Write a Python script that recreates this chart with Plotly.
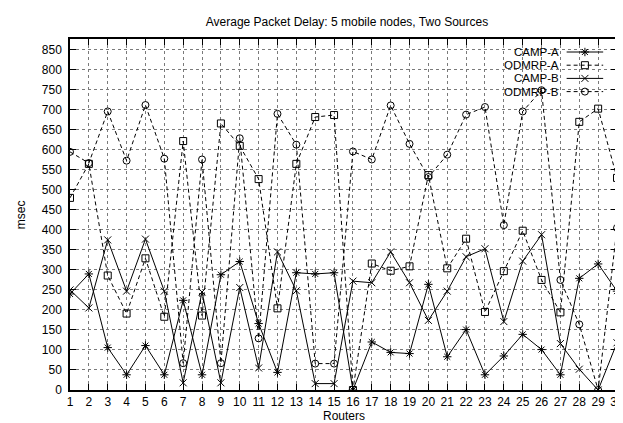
import plotly.graph_objects as go

# ---------------- data ----------------
routers = list(range(1, 31))
series_names = ["CAMP-A", "ODMRP-A", "CAMP-B", "ODMRP-B"]
camp_a = [240, 290, 106, 38, 111, 38, 224, 38, 288, 321, 166, 44, 293, 290, 293,
          0, 120, 94, 91, 264, 83, 151, 38, 85, 139, 101, 38, 279, 315, 247]
odmrp_a = [480, 565, 286, 191, 329, 183, 622, 186, 666, 610, 527, 204, 565, 682, 687,
           0, 316, 298, 309, 537, 304, 378, 195, 297, 398, 275, 194, 670, 703, 530]
camp_b = [250, 205, 375, 247, 377, 247, 18, 245, 18, 256, 55, 345, 248, 16, 16,
          272, 268, 345, 268, 174, 247, 333, 353, 171, 322, 388, 116, 52, 0, 118]
odmrp_b = [595, 567, 696, 573, 712, 578, 67, 576, 67, 629, 129, 690, 613, 66, 66,
           596, 576, 711, 615, 532, 588, 688, 707, 412, 696, 749, 275, 164, 0, 405]
y_ticks = list(range(0, 851, 50))
title_text = "Average Packet Delay: 5 mobile nodes, Two Sources"
x_title = "Routers"
y_title = "msec"

# ---------------- styles ----------------
W, H = 623, 423
ML, MR, MT, MB = 62, 7, 31, 41
FONT = "Liberation Sans, Arial, Helvetica, sans-serif"
styles = [
    dict(dash="solid", symbol="asterisk-open"),
    dict(dash="4px,3px", symbol="square-open"),
    dict(dash="solid", symbol="x-thin-open"),
    dict(dash="4px,3px", symbol="circle-open"),
]
values = [camp_a, odmrp_a, camp_b, odmrp_b]

fig = go.Figure()
for name, vals, st in zip(series_names, values, styles):
    fig.add_trace(go.Scatter(
        x=routers, y=vals, name=name, mode="lines+markers",
        line=dict(color="black", width=1, dash=st["dash"]),
        marker=dict(symbol=st["symbol"], size=7, color="black",
                    line=dict(color="black", width=1)),
        showlegend=False,
    ))

# ---------------- manual legend (gnuplot style: text left, sample right) -------
plot_w = W - ML - MR
plot_h = H - MT - MB
leg_text_right = 558      # pixel x in figure
leg_line_x0, leg_line_x1 = 565, 602
leg_row0, leg_row_gap = 44, 13.2
annotations = []
for i, (name, st) in enumerate(zip(series_names, styles)):
    ry = leg_row0 + i * leg_row_gap
    fig.add_trace(go.Scatter(
        x=[leg_line_x0, leg_line_x1], y=[ry, ry], mode="lines",
        line=dict(color="black", width=1, dash=st["dash"]),
        xaxis="x2", yaxis="y2", showlegend=False, hoverinfo="skip"))
    fig.add_trace(go.Scatter(
        x=[(leg_line_x0 + leg_line_x1) / 2], y=[ry], mode="markers",
        marker=dict(symbol=st["symbol"], size=7, color="black",
                    line=dict(color="black", width=1)),
        xaxis="x2", yaxis="y2", showlegend=False, hoverinfo="skip"))
    annotations.append(dict(
        x=leg_text_right, y=ry, xref="x2", yref="y2", text=name,
        showarrow=False, xanchor="right", yanchor="middle", borderpad=0,
        font=dict(family=FONT, size=11.5, color="black")))

# axis titles (paper coords are relative to the plot area)
annotations.append(dict(
    x=0.5, y=(H - MB - 407.5) / plot_h, xref="paper", yref="paper",
    text=x_title, showarrow=False, xanchor="center", yanchor="middle",
    borderpad=0, font=dict(family=FONT, size=12, color="black")))
annotations.append(dict(
    x=(12 - ML) / plot_w, y=0.5, xref="paper", yref="paper",
    text=y_title, textangle=-90, showarrow=False,
    xanchor="center", yanchor="middle",
    font=dict(family=FONT, size=12, color="black")))

axis_common = dict(
    showline=True, linecolor="black", linewidth=1.5, mirror="ticks",
    ticks="inside", ticklen=6, tickwidth=1, tickcolor="black",
    showgrid=True, gridcolor="#7a7a7a", gridwidth=1, griddash="dot",
    zeroline=False, tickfont=dict(family=FONT, size=12, color="black"),
)

fig.update_layout(
    width=W, height=H,
    margin=dict(l=ML, r=MR, t=MT, b=MB, pad=0),
    paper_bgcolor="white", plot_bgcolor="white",
    font=dict(family=FONT, size=12, color="black"),
    title=dict(text=title_text, x=(ML + plot_w / 2) / W, xanchor="center",
               y=1 - 14 / H, yanchor="middle",
               font=dict(family=FONT, size=12, color="black")),
    xaxis=dict(range=[1, 30], tickmode="array", tickvals=routers,
               ticktext=[str(r) for r in routers], **axis_common),
    yaxis=dict(range=[0, 877], tickmode="array", tickvals=y_ticks,
               ticktext=[str(t) for t in y_ticks], ticklabelstandoff=4,
               **axis_common),
    xaxis2=dict(overlaying="x", range=[ML, W - MR], visible=False,
                showgrid=False, zeroline=False),
    yaxis2=dict(overlaying="y", range=[H - MB, MT], visible=False,
                showgrid=False, zeroline=False),
    annotations=annotations,
    showlegend=False,
)

fig.write_html("out.html")
